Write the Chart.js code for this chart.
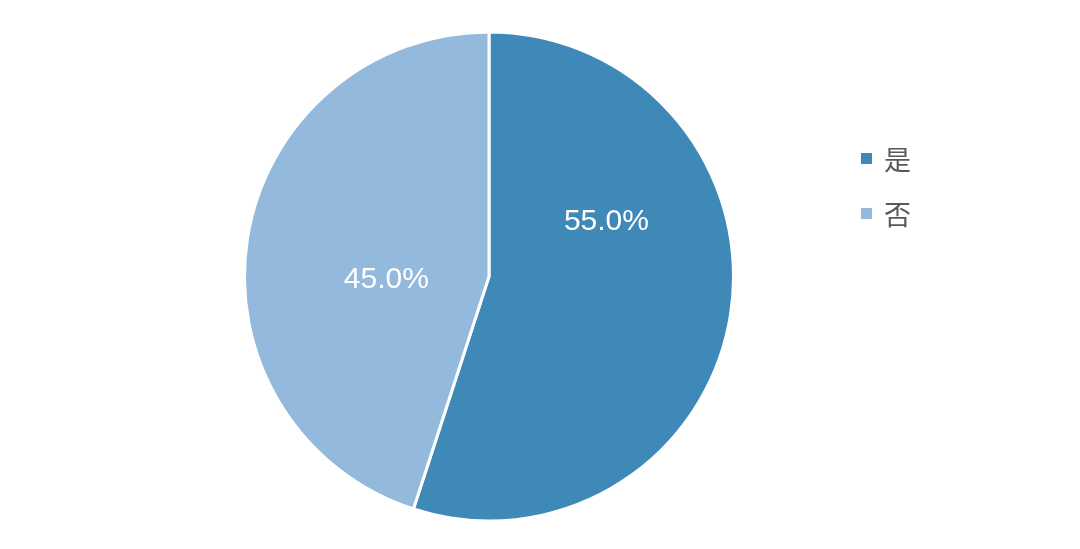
<!DOCTYPE html>
<html>
<head>
<meta charset="utf-8">
<script src="https://cdn.jsdelivr.net/npm/chart.js@4"></script>
<style>
  html, body { margin: 0; padding: 0; background: #fff; }
  #wrap { position: relative; width: 1080px; height: 549px; }
  #legend { position: absolute; left: 861px; top: 131px; font-family: "Noto Sans CJK SC", sans-serif; font-size: 27px; color: #595959; }
  .item { height: 55px; display: flex; align-items: center; }
  .box { width: 11px; height: 11px; margin-right: 12px; }
</style>
</head>
<body>
<div id="wrap">
  <canvas id="chart" width="1080" height="549"></canvas>
  <div id="legend"></div>
</div>
<script>
var labels = ["是", "否"];
var values = [55.0, 45.0];
var colors = ["#3f89b9", "#93b9dc"];

// where each percentage sits inside its slice: angle shift (deg) from mid, radius fraction
var labelPlace = [{shift: -34, r: 0.53}, {shift: -11, r: 0.42}];

var pctLabels = {
    id: "pctLabels",
    afterDatasetsDraw: function(chart) {
        var ctx = chart.ctx;
        var meta = chart.getDatasetMeta(0);
        var total = values.reduce((a, b) => a + b, 0);
        ctx.save();
        ctx.fillStyle = "#ffffff";
        ctx.font = "30px 'Liberation Sans', Arial, sans-serif";
        ctx.textAlign = "center";
        ctx.textBaseline = "middle";
        meta.data.map((arc, i) => {
            var p = arc.getProps(["x", "y", "startAngle", "endAngle", "outerRadius"], true);
            var mid = (p.startAngle + p.endAngle) / 2 + labelPlace[i].shift * Math.PI / 180;
            var r = p.outerRadius * labelPlace[i].r;
            var text = (values[i] / total * 100).toFixed(1) + "%";
            ctx.fillText(text, p.x + Math.cos(mid) * r, p.y + Math.sin(mid) * r);
        });
        ctx.restore();
    }
};

const ctx = document.getElementById("chart").getContext("2d");
const myChart = new Chart(ctx, {
    type: "pie",
    data: {
        labels: labels,
        datasets: [{
            data: values,
            backgroundColor: colors,
            borderColor: "#ffffff",
            borderWidth: 3
        }]
    },
    options: {
        responsive: false,
        animation: false,
        layout: { padding: { left: 243, right: 345, top: 30, bottom: 26 } },
        plugins: {
            legend: { display: false },
            tooltip: { enabled: false }
        }
    },
    plugins: [pctLabels]
});

var legend = document.getElementById("legend");
labels.map((name, i) => {
    legend.insertAdjacentHTML("beforeend",
        `<div class="item"><span class="box" style="background:${colors[i]}"></span><span>${name}</span></div>`);
});
</script>
</body>
</html>
